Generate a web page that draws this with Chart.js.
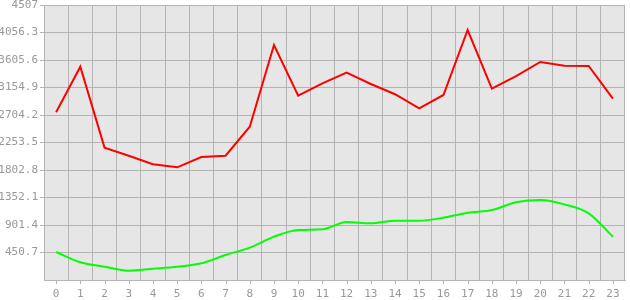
<!DOCTYPE html>
<html>
<head>
<meta charset="utf-8">
<script src="https://cdn.jsdelivr.net/npm/chart.js@4/dist/chart.umd.min.js"></script>
<style>
html,body{margin:0;padding:0;background:#fff;}
canvas{display:block;}
</style>
</head>
<body>
<canvas id="c" width="630" height="300"></canvas>
<script>
const categories = ["0","1","2","3","4","5","6","7","8","9","10","11","12","13","14","15","16","17","18","19","20","21","22","23"];
const redValues = [2748,3496,2170,2037,1896,1847,2016,2037,2513,3851,3021,3223,3398,3212,3045,2813,3032,4097,3136,3343,3573,3513,3507,2972];
const greenValues = [459,290,218,153,185,218,273,410,530,710,819,830,951,929,972,972,1021,1103,1147,1273,1311,1240,1093,710];
const yTickValues = [450.7,901.4,1352.1,1802.8,2253.5,2704.2,3154.9,3605.6,4056.3,4507];
const yTickLabels = ["450.7","901.4","1352.1","1802.8","2253.5","2704.2","3154.9","3605.6","4056.3","4507"];

const GRID = '#b4b4b4';
const TEXT = '#999999';
const FONT = {family:'"DejaVu Sans Mono", monospace', size:11};

const bgPlugin = {
  id:'bg',
  beforeDraw(chart){
    const {ctx, chartArea:a} = chart;
    ctx.save();
    ctx.fillStyle = '#e6e6e6';
    ctx.fillRect(a.left, a.top, a.right-a.left, a.bottom-a.top);
    ctx.restore();
  },
  afterDraw(chart){
    const x = chart.scales.x, ctx = chart.ctx;
    ctx.save();
    ctx.strokeStyle = GRID;
    ctx.lineWidth = 1;
    for(let i=0;i<categories.length;i++){
      const px = Math.round(x.getPixelForTick(i))+0.5;
      ctx.beginPath();
      ctx.moveTo(px, x.top);
      ctx.lineTo(px, x.top+4);
      ctx.stroke();
    }
    ctx.restore();
  }
};

new Chart(document.getElementById('c'), {
  type:'line',
  data:{
    labels:categories,
    datasets:[
      {data:redValues, borderColor:'#ff0000', borderWidth:2, pointRadius:0, tension:0, fill:false},
      {data:greenValues, borderColor:'#00ff00', borderWidth:2, pointRadius:0, cubicInterpolationMode:'monotone', fill:false}
    ]
  },
  options:{
    responsive:false,
    animation:false,
    devicePixelRatio:1,
    layout:{padding:{top:5,right:5,left:0,bottom:0}},
    plugins:{legend:{display:false}, tooltip:{enabled:false}},
    scales:{
      x:{
        type:'category',
        offset:true,
        grid:{offset:true, color:GRID, drawTicks:false},
        border:{color:GRID},
        ticks:{color:TEXT, font:FONT, padding:8, maxRotation:0, autoSkip:false},
        afterFit(s){ s.height = 20; s.paddingLeft = 0; s.paddingRight = 0; }
      },
      y:{
        min:0, max:4507,
        grid:{color:GRID, tickLength:4, tickColor:GRID},
        border:{color:GRID},
        ticks:{color:TEXT, font:FONT, padding:2,
          callback(v){ const i = yTickValues.indexOf(v); return i>=0 ? yTickLabels[i] : ''; }},
        afterBuildTicks(s){ s.ticks = yTickValues.map(v=>({value:v})); },
        afterFit(s){ s.width = 44; s.paddingTop = 0; s.paddingBottom = 0; }
      }
    }
  },
  plugins:[bgPlugin]
});
</script>
</body>
</html>
